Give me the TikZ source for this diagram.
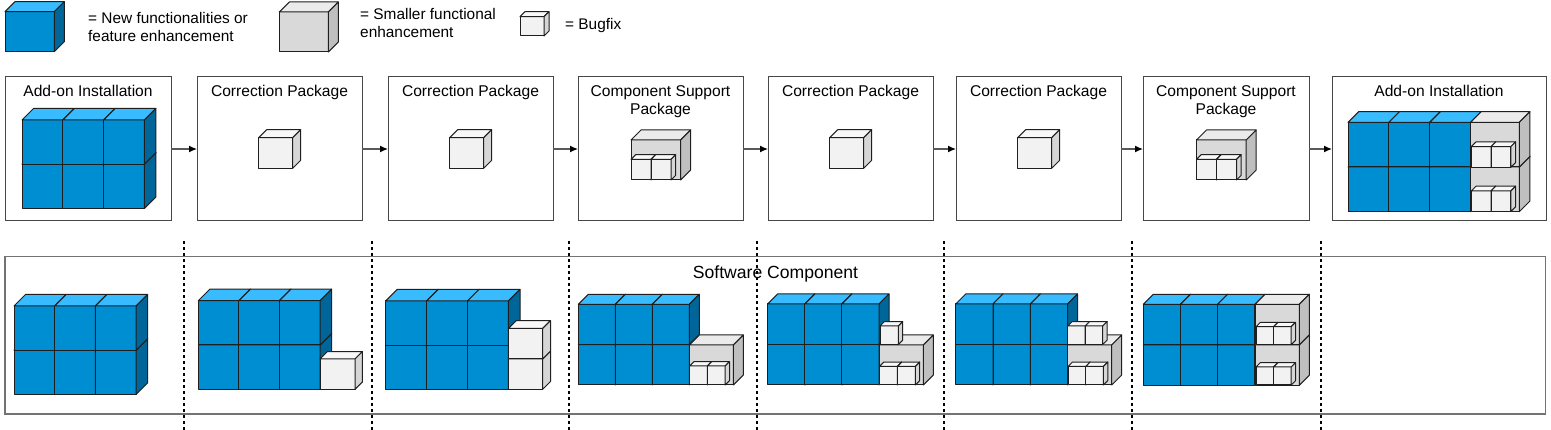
\documentclass[tikz,border=0pt]{standalone}
\usepackage{fontspec}
\setmainfont{Liberation Sans}
\usetikzlibrary{arrows.meta}
\definecolor{cbF}{HTML}{008ED3}
\definecolor{cbT}{HTML}{38BCFF}
\definecolor{cbS}{HTML}{006699}
\definecolor{cgF}{HTML}{D9D9D9}
\definecolor{cgT}{HTML}{EBEBEB}
\definecolor{cgS}{HTML}{BFBFBF}
\definecolor{cwF}{HTML}{F2F2F2}
\definecolor{cwT}{HTML}{F8F8F8}
\definecolor{cwS}{HTML}{D6D6D6}
\tikzset{
  cubeline/.style={draw=black!88, line width=1pt, line join=round},
  pkgbox/.style={draw=black!72, line width=1pt, minimum height=144pt, inner sep=0pt, outer sep=0pt},
  ttl/.style={font=\fontsize{15.6}{19}\selectfont, anchor=base, inner sep=0pt},
  lgd/.style={font=\fontsize{15.4}{18}\selectfont, anchor=base west, inner sep=0pt},
  conn/.style={draw=black!65, line width=1.3pt, -{Latex[color=black,length=8pt,width=7pt]}},
  sep/.style={draw=black, line width=2pt, dash pattern=on 3pt off 3pt},
}
% x y w h d type
\newcommand{\drawcube}[6]{%
  \filldraw[cubeline, fill=#6F] (#1,#2) rectangle ++(#3,#4);
  \filldraw[cubeline, fill=#6T] (#1,#2) -- ++(#5,-#5) -- ++(#3,0) -- ++(-#5,#5) -- cycle;
  \filldraw[cubeline, fill=#6S] (#1+#3,#2) -- ++(#5,-#5) -- ++(0,#4) -- ++(-#5,#5) -- cycle;
}
% x y w h d : 3x2 blue block, y = top of upper row
\newcommand{\bluegrid}[5]{%
  \foreach \c in {0,1,2} {\drawcube{#1+\c*#3}{#2+#4}{#3}{#4}{#5}{cb}}
  \foreach \c in {0,1,2} {\drawcube{#1+\c*#3}{#2}{#3}{#4}{#5}{cb}}
}
\begin{document}
\begin{tikzpicture}[x=1pt,y=-1pt]
\useasboundingbox (0,0) rectangle (1551,430);

% ---------- legend ----------
\drawcube{5}{11.7}{49.3}{40}{10}{cb}
\node[lgd] (l1a) at (88,24) {= New functionalities or};
\node[lgd] (l1b) at (88,41.7) {feature enhancement};
\drawcube{279.3}{12}{49}{40}{10}{cg}
\node[lgd] (l2a) at (360,19.5) {= Smaller functional};
\node[lgd] (l2b) at (360,37.5) {enhancement};
\drawcube{520}{16.7}{24}{19.3}{5}{cw}
\node[lgd] (l3) at (565,29.5) {= Bugfix};

% ---------- top row of packages ----------
\node[pkgbox, minimum width=166pt] (b1) at (88,149) {};
\node[pkgbox, minimum width=165pt] (b2) at (279.5,149) {};
\node[pkgbox, minimum width=165pt] (b3) at (470.5,149) {};
\node[pkgbox, minimum width=165pt] (b4) at (660.5,149) {};
\node[pkgbox, minimum width=165pt] (b5) at (850.5,149) {};
\node[pkgbox, minimum width=165pt] (b6) at (1038.5,149) {};
\node[pkgbox, minimum width=166pt] (b7) at (1226,149) {};
\node[pkgbox, minimum width=214pt] (b8) at (1439,149) {};

\node[ttl] (t1) at (88,96.5) {Add-on Installation};
\node[ttl] (t2) at (279.5,96.5) {Correction Package};
\node[ttl] (t3) at (470.5,96.5) {Correction Package};
\node[ttl] (t4a) at (660.5,96.5) {Component Support};
\node[ttl] (t4b) at (660.5,115) {Package};
\node[ttl] (t5) at (850.5,96.5) {Correction Package};
\node[ttl] (t6) at (1038.5,96.5) {Correction Package};
\node[ttl] (t7a) at (1226,96.5) {Component Support};
\node[ttl] (t7b) at (1226,115) {Package};
\node[ttl] (t8) at (1439,96.5) {Add-on Installation};

\draw[conn] (b1.east) -- (b2.west);
\draw[conn] (b2.east) -- (b3.west);
\draw[conn] (b3.east) -- (b4.west);
\draw[conn] (b4.east) -- (b5.west);
\draw[conn] (b5.east) -- (b6.west);
\draw[conn] (b6.east) -- (b7.west);
\draw[conn] (b7.east) -- (b8.west);

% box 1
\bluegrid{22}{120}{40.8}{44.2}{11.5}
% boxes 2,3,5,6 : bugfix
\drawcube{258.7}{137.7}{34}{30.6}{8}{cw}
\drawcube{449.7}{137.7}{34}{30.6}{8}{cw}
\drawcube{829.7}{137.7}{34}{30.6}{8}{cw}
\drawcube{1017.7}{137.7}{34}{30.6}{8}{cw}
% box 4, 7 : component support package
\drawcube{631}{140}{49.7}{40}{10}{cg}
\drawcube{631}{159.3}{20}{20.7}{4.6}{cw}
\drawcube{651}{159.3}{20}{20.7}{4.6}{cw}
\drawcube{1196.5}{140}{49.7}{40}{10}{cg}
\drawcube{1196.5}{159.3}{20}{20.7}{4.6}{cw}
\drawcube{1216.5}{159.3}{20}{20.7}{4.6}{cw}
% box 8
\bluegrid{1348}{122.3}{40.9}{44.7}{10.6}
\drawcube{1470.7}{167}{48.6}{44.7}{10.6}{cg}
\drawcube{1470.7}{122.3}{48.6}{44.7}{10.6}{cg}
\drawcube{1471.2}{146.7}{19.8}{20.6}{4.8}{cw}
\drawcube{1491}{146.7}{19.8}{20.6}{4.8}{cw}
\drawcube{1471.2}{191}{19.8}{20.6}{4.8}{cw}
\drawcube{1491}{191}{19.8}{20.6}{4.8}{cw}

% ---------- software component ----------
\node[draw=black!55, line width=1.5pt, minimum width=1540.5pt, minimum height=157.3pt, inner sep=0pt, outer sep=0pt] (sw) at (775.25,335.35) {};
\node[ttl, font=\fontsize{17.6}{20}\selectfont] (swt) at (775.5,279) {Software Component};

% scene 1
\bluegrid{14}{306}{40.7}{44.2}{11.5}
% scene 2
\bluegrid{198.3}{300.7}{40.6}{44.3}{11.5}
\drawcube{320}{359}{35}{30.3}{7.4}{cw}
% scene 3
\bluegrid{385.7}{301}{40.9}{44.2}{11.6}
\drawcube{508.3}{358.9}{34.4}{30.4}{7.8}{cw}
\drawcube{508.3}{328.5}{34.4}{30.4}{7.8}{cw}
% scene 4
\bluegrid{578.3}{304.3}{37}{40.3}{10}
\drawcube{689.3}{345}{44}{40}{10}{cg}
\drawcube{689.6}{366}{17.8}{19}{4.3}{cw}
\drawcube{707.4}{366}{17.8}{19}{4.3}{cw}
% scene 5
\bluegrid{767.7}{304}{37.1}{40.5}{10}
\drawcube{879}{345}{44.3}{40}{10}{cg}
\drawcube{879.3}{366.5}{18}{18.5}{4.4}{cw}
\drawcube{897.3}{366.5}{18}{18.5}{4.4}{cw}
\drawcube{880}{326}{18.3}{18.5}{4.4}{cw}
% scene 6
\bluegrid{955.7}{304}{37.3}{40.5}{10}
\drawcube{1067.7}{345}{44}{40}{10}{cg}
\drawcube{1068}{366.5}{17.7}{18.5}{4.4}{cw}
\drawcube{1085.7}{366.5}{17.7}{18.5}{4.4}{cw}
\drawcube{1067.7}{326}{17.5}{18.5}{4.4}{cw}
\drawcube{1085.2}{326}{17.5}{18.5}{4.4}{cw}
% scene 7
\bluegrid{1143.3}{304.3}{37.2}{40.5}{10}
\drawcube{1255}{344.8}{44.3}{40.5}{10}{cg}
\drawcube{1255}{304.3}{44.3}{40.5}{10}{cg}
\drawcube{1256}{326.7}{17.6}{18}{4.3}{cw}
\drawcube{1273.6}{326.7}{17.6}{18}{4.3}{cw}
\drawcube{1256}{367}{17.6}{18}{4.3}{cw}
\drawcube{1273.6}{367}{17.6}{18}{4.3}{cw}

% ---------- separators ----------
\foreach \x in {183.5,371.7,569,756.5,944.3,1132,1320.7}
  \draw[sep] (\x,241) -- (\x,430);
\end{tikzpicture}
\end{document}
